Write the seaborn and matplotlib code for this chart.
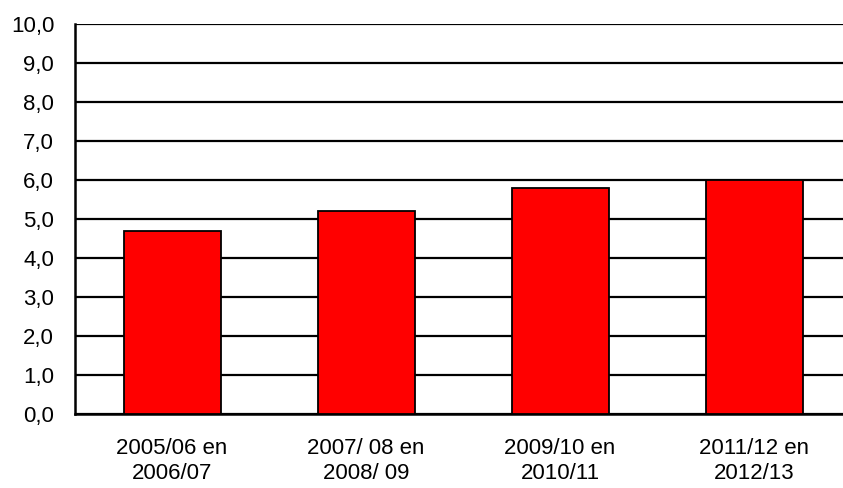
import matplotlib
matplotlib.use("Agg")
import matplotlib.pyplot as plt
import seaborn as sns
import pandas as pd
from matplotlib.ticker import FuncFormatter, MultipleLocator

categories = ["2005/06 en\n2006/07", "2007/ 08 en\n2008/ 09", "2009/10 en\n2010/11", "2011/12 en\n2012/13"]
values = [4.7, 5.2, 5.8, 6.0]

sns.set_style("white")
plt.rcParams["font.family"] = ["Liberation Sans", "DejaVu Sans"]

df = pd.DataFrame({"cat": categories, "val": values})

fig = plt.figure(figsize=(8.43, 4.88), dpi=100)
ax = fig.add_axes([75 / 843, (488 - 414) / 488, 776 / 843, 390 / 488])

sns.barplot(data=df, x="cat", y="val", color="#ff0000", width=0.5,
            edgecolor="black", linewidth=1.3, saturation=1, ax=ax, zorder=3)

ax.set_xlim(-0.5, 3.5)
ax.set_ylim(0, 10)
ax.yaxis.set_major_locator(MultipleLocator(1))
ax.yaxis.set_major_formatter(FuncFormatter(lambda v, p: f"{v:.1f}".replace(".", ",")))
ax.grid(axis="y", color="black", linewidth=1.6, zorder=0)
ax.set_axisbelow(True)

ax.set_xticks([-0.5, 0.5, 1.5, 2.5, 3.5], minor=False)
ax.set_xticklabels([])
ax.set_xticks([0, 1, 2, 3], minor=True)
ax.set_xticklabels(categories, minor=True, linespacing=1.3)
ax.tick_params(axis="x", which="major", direction="out", length=6, width=1.5, color="black")
ax.tick_params(axis="x", which="minor", length=0, pad=17, labelsize=16, labelcolor="black")
ax.tick_params(axis="y", direction="out", length=6, width=1.5, color="black", pad=9,
               labelsize=16, labelcolor="black")

for s in ["top", "right"]:
    ax.spines[s].set_visible(False)
for s in ["left", "bottom"]:
    ax.spines[s].set_color("black")
    ax.spines[s].set_linewidth(1.8)

ax.set_xlabel("")
ax.set_ylabel("")

fig.savefig("out.png", dpi=100)
